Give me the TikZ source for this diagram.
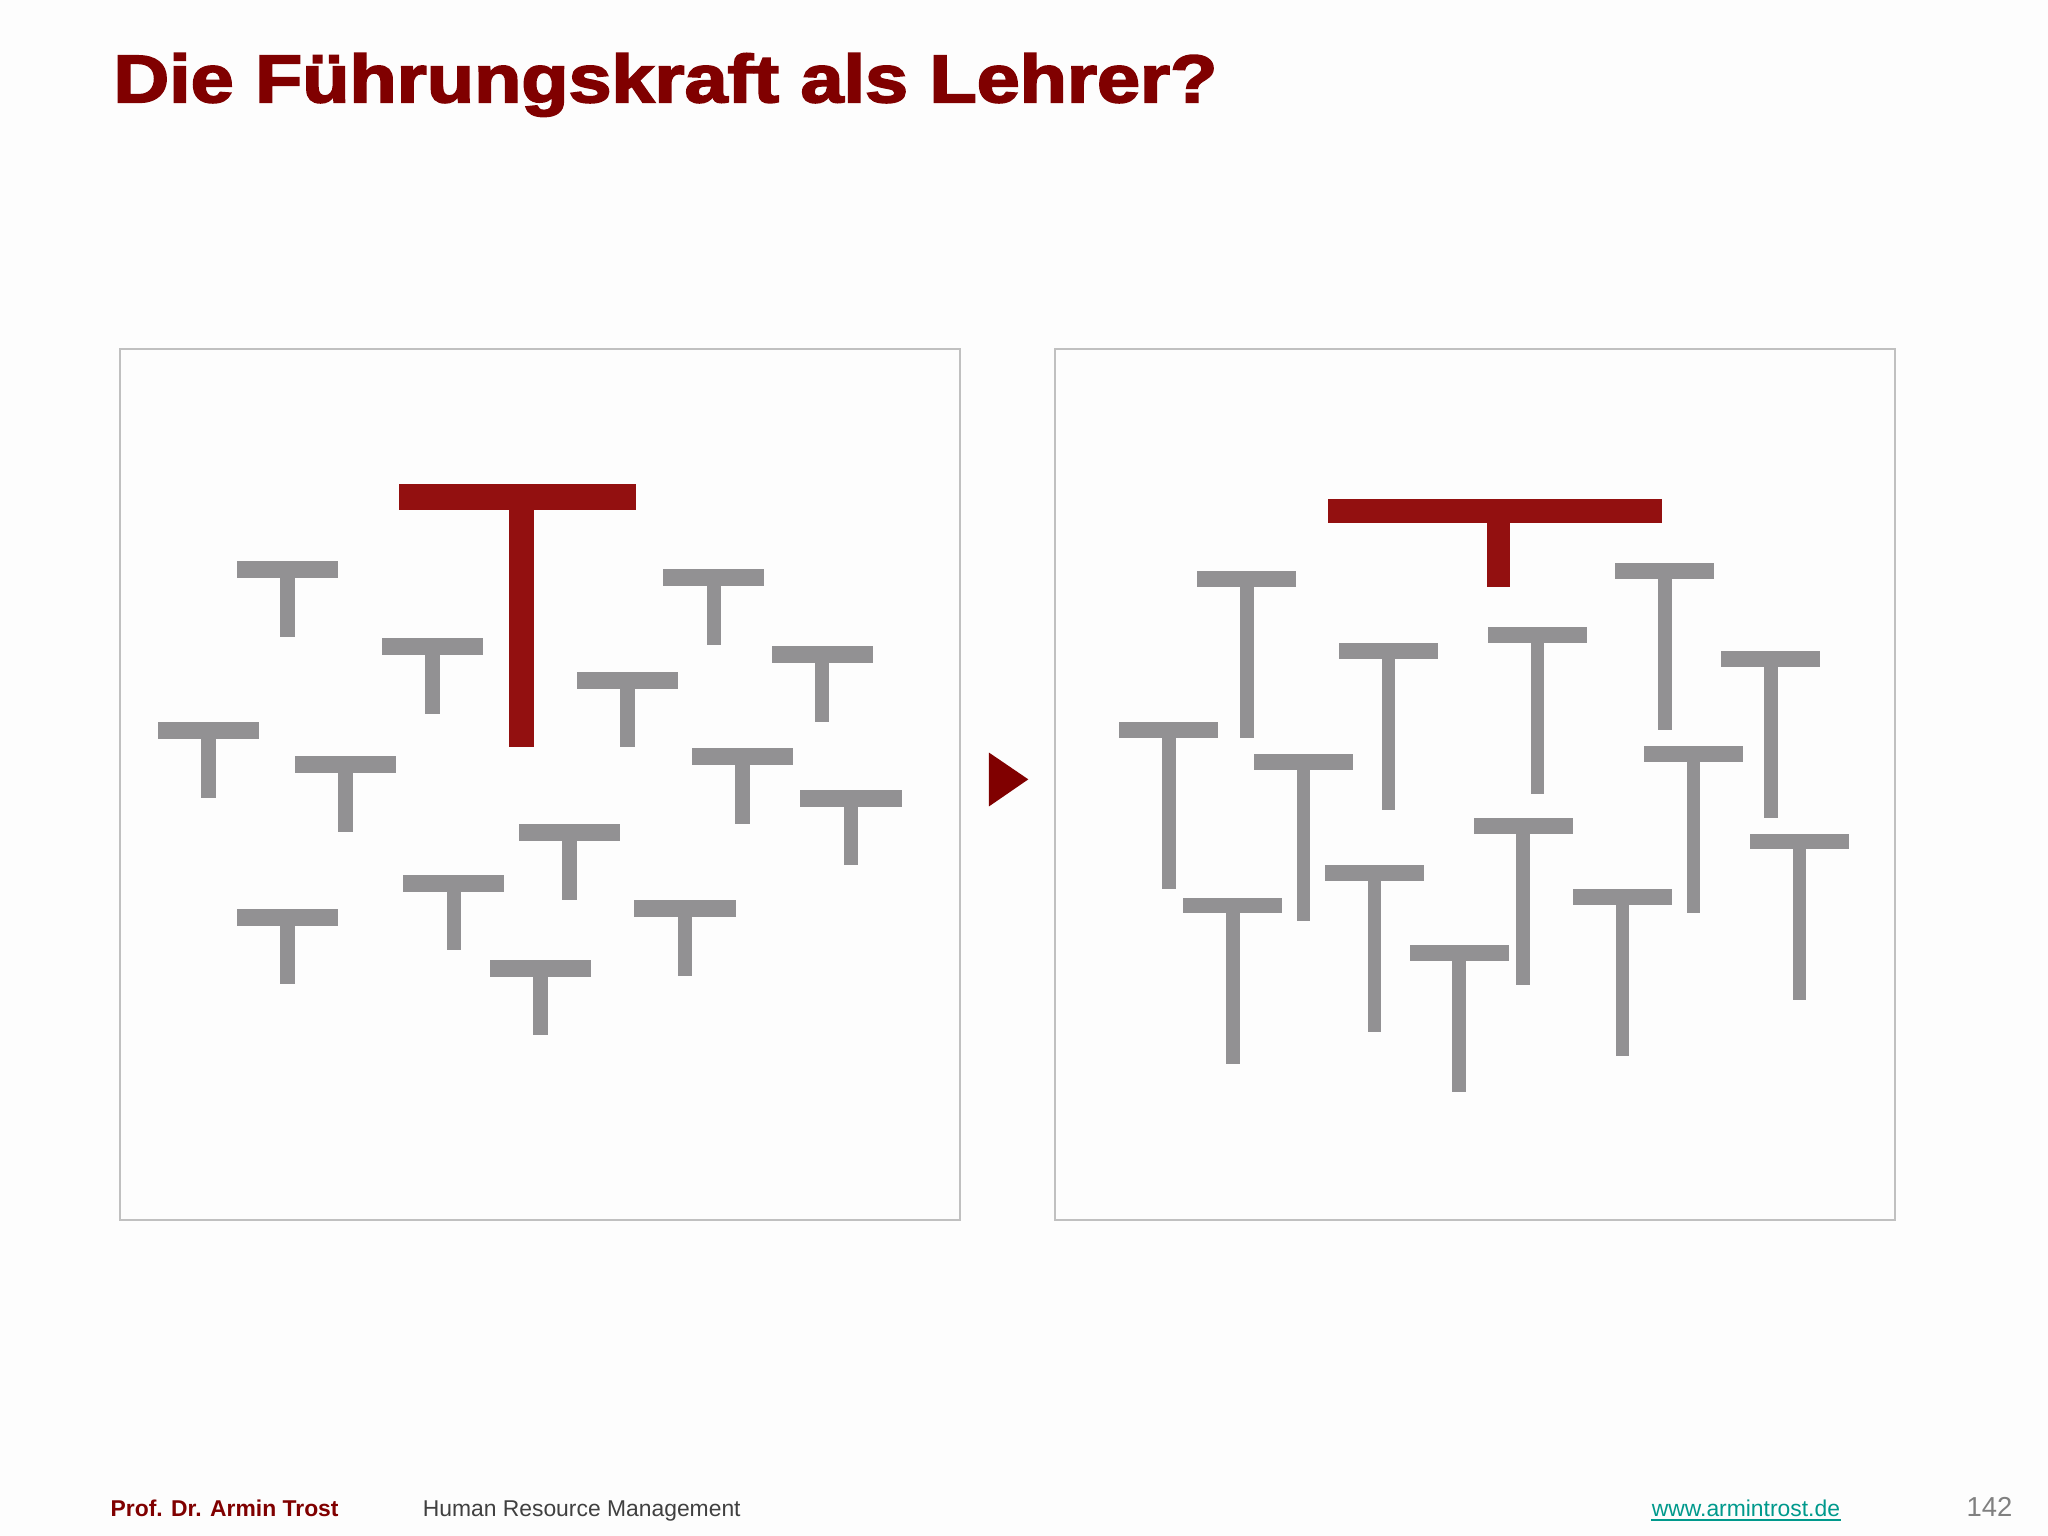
\documentclass[tikz,border=0pt]{standalone}
\usepackage{fontspec}
\setmainfont{Liberation Sans}
\newfontfamily\titlefont[FakeBold=2.5]{Liberation Sans Bold}
\definecolor{tgray}{HTML}{929193}
\definecolor{tred}{HTML}{931010}
\definecolor{titlered}{HTML}{800000}
\definecolor{framegray}{HTML}{C0C0C0}
\definecolor{bgcol}{HTML}{FDFDFD}
\definecolor{urlteal}{HTML}{00998C}
\definecolor{footgray}{HTML}{404040}
\definecolor{pagegray}{HTML}{808080}
\tikzset{
  panel/.style={draw=framegray, line width=0.015cm},
  foot/.style={inner sep=0pt, anchor=base west, font=\fontsize{4.98pt}{6pt}\selectfont},
}
% small gray T of the left panel: centre x, top y
\newcommand{\leftTee}[2]{%
  \fill[tgray] (#1-38.75,#2) rectangle (#1+38.75,#2+13);
  \fill[tgray] (#1-5.5,#2+13) rectangle (#1+5.5,#2+58);}
% tall gray T of the right panel: [height] centre x, top y
\newcommand{\rightTee}[3][127.6]{%
  \fill[tgray] (#2-37.8,#3) rectangle (#2+37.8,#3+12);
  \fill[tgray] (#2-5.15,#3+12) rectangle (#2+5.15,#3+#1);}
\begin{document}
\begin{tikzpicture}[x=0.01cm,y=-0.01cm]
\useasboundingbox (0,0) rectangle (1568,1176);
\fill[bgcol] (0,0) rectangle (1568,1176);

% title
\node[inner sep=0pt, anchor=base west, xscale=1.145, text=titlered,
      font=\titlefont\fontsize{14.7pt}{17pt}\selectfont] (title) at (86,78.3)
      {Die Führungskraft als Lehrer?};

% panels
\draw[panel] (92,267) rectangle (735,934);
\draw[panel] (808,267) rectangle (1451,934);

% left panel: the big red T
\fill[tred] (305.5,370.9) rectangle (486.6,390.7);
\fill[tred] (389.5,390.7) rectangle (408.9,572);
% left panel: small gray Ts
\leftTee{220.2}{429.4}
\leftTee{331}{488.4}
\leftTee{546.5}{436}
\leftTee{629.5}{494.5}
\leftTee{480.3}{514.3}
\leftTee{159.5}{552.6}
\leftTee{264.4}{579}
\leftTee{568.4}{572.8}
\leftTee{651.5}{604.5}
\leftTee{436}{630.9}
\leftTee{347.4}{669.6}
\leftTee{220.2}{695.6}
\leftTee{524.4}{689}
\leftTee{413.9}{734.8}

% arrow
\fill[titlered] (757.2,576.2) -- (787.3,596.7) -- (757.2,617.4) -- cycle;

% right panel: red T
\fill[tred] (1016.6,382.3) rectangle (1272.4,400.8);
\fill[tred] (1138.2,400.8) rectangle (1155.9,449.6);
% right panel: tall gray Ts
\rightTee{954.6}{437.3}
\rightTee{1063}{492.3}
\rightTee{1177}{480}
\rightTee{1274.6}{431}
\rightTee{1355.8}{498.4}
\rightTee{894.9}{553}
\rightTee{998}{577.2}
\rightTee{1052.2}{662.6}
\rightTee{1166.2}{626.5}
\rightTee{1296.5}{571.5}
\rightTee{943.9}{687.2}
\rightTee[112.2]{1117.2}{723.7}
\rightTee{1242.3}{680.6}
\rightTee{1377.8}{638.4}

% footer
\node[foot, text=titlered, font=\bfseries\fontsize{4.98pt}{6pt}\selectfont] (author) at (84,1161) {Prof. Dr. Armin Trost};
\node[foot, text=footgray] (course) at (323,1161) {Human Resource Management};
\node[foot, text=urlteal] (url) at (1264,1161) {www.armintrost.de};
\draw[urlteal, line width=0.015cm] ([yshift=-0.028cm]url.base west) -- ([yshift=-0.028cm]url.base east);
\node[foot, text=pagegray, font=\fontsize{5.97pt}{7pt}\selectfont] (page) at (1505,1161) {142};
\end{tikzpicture}
\end{document}
